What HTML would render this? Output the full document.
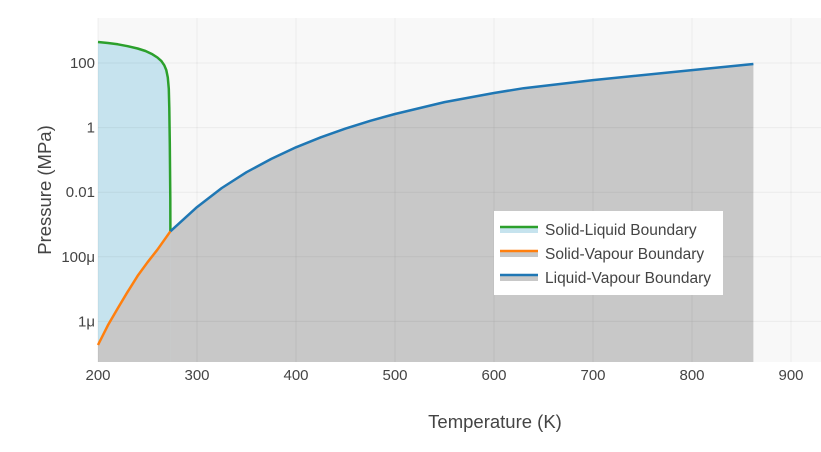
<!DOCTYPE html>
<html><head><meta charset="utf-8"><style>
body{margin:0;background:#fff;}
svg text{font-family:"Liberation Sans","DejaVu Sans",sans-serif;fill:#444;}
</style></head><body>
<svg id="chart" width="821" height="447" viewBox="0 0 821 447" xmlns="http://www.w3.org/2000/svg">
<rect x="98" y="18" width="723" height="344" fill="#f8f8f8"/>
<g id="fills"></g><g id="grid"></g><g id="lines"></g><g id="ticks"></g>
<text x="495" y="428" font-size="18.5" text-anchor="middle">Temperature (K)</text>
<text x="0" y="0" font-size="18.5" text-anchor="middle" transform="translate(51,190) rotate(-90)">Pressure (MPa)</text>
<g>
<rect x="494" y="211" width="229" height="84" fill="#fff"/>
<g><rect x="500" y="227" width="38" height="6" fill="#c6e3ee"/><line x1="500" y1="227" x2="538" y2="227" stroke="#2ca02c" stroke-width="2.5"/><text x="545" y="235" font-size="15.5">Solid-Liquid Boundary</text></g>
<g><rect x="500" y="251" width="38" height="6" fill="#c8c8c8"/><line x1="500" y1="251" x2="538" y2="251" stroke="#ff7f0e" stroke-width="2.5"/><text x="545" y="259" font-size="15.5">Solid-Vapour Boundary</text></g>
<g><rect x="500" y="275" width="38" height="6" fill="#c8c8c8"/><line x1="500" y1="275" x2="538" y2="275" stroke="#1f77b4" stroke-width="2.5"/><text x="545" y="283" font-size="15.5">Liquid-Vapour Boundary</text></g>
</g>
</svg>
<script>
const slT=[200,210,220,230,240,248,255,260,264,267,269,270.5,271.5,272,272.5,273,273.16];
const slLogP=[2.65,2.62,2.58,2.52,2.45,2.37,2.27,2.17,2.06,1.93,1.78,1.55,1.2,0.6,-0.5,-2.2,-3.21];
const svT=[200,210,220,230,240,250,260,273.16];
const svLogP=[-6.73,-6.12,-5.59,-5.08,-4.59,-4.17,-3.78,-3.21];
const lvT=[273.16,300,325,350,375,400,425,450,475,500,550,600,630,700,800,862];
const lvLogP=[-3.21,-2.46,-1.87,-1.38,-0.97,-0.61,-0.3,-0.03,0.21,0.42,0.79,1.07,1.22,1.47,1.78,1.97];
const xTicks=[200,300,400,500,600,700,800,900];
const yTickLogs=[2,0,-2,-4,-6];
const yTickLabels=["100","1","0.01","100μ","1μ"];
const NS="http://www.w3.org/2000/svg";
const X=t=>98+(t-200)*0.99;
const Y=l=>127.6-32.3*l;
const BOT=362;
function mk(tag,attrs,parent){const e=document.createElementNS(NS,tag);for(const k in attrs)e.setAttribute(k,attrs[k]);document.getElementById(parent).appendChild(e);return e;}
function pts(ts,ls){return ts.map((t,i)=>X(t).toFixed(1)+","+Y(ls[i]).toFixed(1));}
function area(ts,ls){const p=pts(ts,ls);return "M"+X(ts[0])+","+BOT+" L"+p.join(" L")+" L"+X(ts[ts.length-1])+","+BOT+" Z";}
let e;
e=mk("path",{d:area(slT,slLogP),fill:"#c6e3ee"},"fills");


e=mk("path",{d:area(svT,svLogP),fill:"#c8c8c8"},"fills");


e=mk("path",{d:area(lvT,lvLogP),fill:"#c8c8c8"},"fills");


xTicks.forEach(t=>{
 e=mk("line",{x1:X(t),x2:X(t),y1:18,y2:BOT,stroke:"rgba(0,0,0,0.05)","stroke-width":1},"grid");
 
 
 e=mk("text",{x:X(t),y:380,"font-size":15,"text-anchor":"middle"},"ticks");e.textContent=t;
 
 
});
yTickLogs.forEach((l,i)=>{
 e=mk("line",{x1:98,x2:821,y1:Y(l),y2:Y(l),stroke:"rgba(0,0,0,0.05)","stroke-width":1},"grid");
 
 
 e=mk("text",{x:95,y:Y(l)+5,"font-size":15,"text-anchor":"end"},"ticks");e.textContent=yTickLabels[i];
 
 
});
e=mk("polyline",{points:pts(slT,slLogP).join(" "),fill:"none",stroke:"#2ca02c","stroke-width":2.5,"stroke-linejoin":"round"},"lines");


e=mk("polyline",{points:pts(svT,svLogP).join(" "),fill:"none",stroke:"#ff7f0e","stroke-width":2.5,"stroke-linejoin":"round"},"lines");


e=mk("polyline",{points:pts(lvT,lvLogP).join(" "),fill:"none",stroke:"#1f77b4","stroke-width":2.5,"stroke-linejoin":"round"},"lines");


</script>
</body></html>
